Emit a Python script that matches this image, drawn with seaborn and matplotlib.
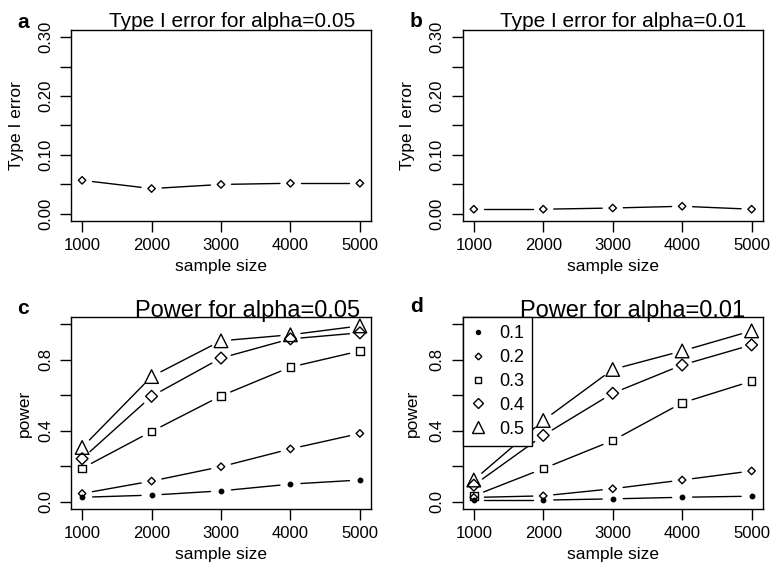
import numpy as np
import pandas as pd
import matplotlib
matplotlib.use('Agg')
import matplotlib.pyplot as plt
from matplotlib.lines import Line2D
import seaborn as sns

# tamanhos de amostra
sample_sizes = [1000, 2000, 3000, 4000, 5000]

# erro tipo I
type1_a05 = [0.057, 0.043, 0.050, 0.052, 0.052]
type1_a01 = [0.008, 0.008, 0.010, 0.013, 0.008]

# poder para alpha=0.05 (efeitos 0.1 ... 0.5)
effects = ['0.1', '0.2', '0.3', '0.4', '0.5']
power_a05_01 = [0.026, 0.038, 0.062, 0.100, 0.123]
power_a05_02 = [0.047, 0.117, 0.198, 0.298, 0.385]
power_a05_03 = [0.189, 0.396, 0.596, 0.758, 0.849]
power_a05_04 = [0.243, 0.594, 0.809, 0.917, 0.951]
power_a05_05 = [0.306, 0.705, 0.906, 0.940, 0.990]

# poder para alpha=0.01
power_a01_01 = [0.010, 0.010, 0.017, 0.026, 0.032]
power_a01_02 = [0.025, 0.034, 0.074, 0.123, 0.174]
power_a01_03 = [0.034, 0.187, 0.345, 0.557, 0.679]
power_a01_04 = [0.094, 0.374, 0.611, 0.770, 0.883]
power_a01_05 = [0.123, 0.458, 0.745, 0.849, 0.962]

sns.set_style('ticks')
plt.rcParams['font.family'] = ['Liberation Sans', 'DejaVu Sans']
plt.rcParams['axes.linewidth'] = 1.0
plt.rcParams['xtick.major.width'] = 1.0
plt.rcParams['ytick.major.width'] = 1.0
plt.rcParams['xtick.major.size'] = 8
plt.rcParams['ytick.major.size'] = 8
plt.rcParams['xtick.major.pad'] = 4
plt.rcParams['ytick.major.pad'] = 5
for k in ('xtick.color', 'ytick.color', 'axes.edgecolor', 'text.color',
          'axes.labelcolor', 'xtick.labelcolor', 'ytick.labelcolor'):
    plt.rcParams[k] = 'black'

# estilo dos marcadores: (marcador, tamanho, preenchido)
styles = {
    '0.1': ('o', 3.2, True),
    '0.2': ('D', 3.8, False),
    '0.3': ('s', 5.4, False),
    '0.4': ('D', 6.0, False),
    '0.5': ('^', 9.8, False),
}

fig = plt.figure(figsize=(7.71, 5.77), dpi=100)
W, H = 771, 577


def new_axes(left, top, width, height):
    return fig.add_axes([left / W, 1 - (top + height) / H, width / W, height / H])


ax_a = new_axes(71, 30, 300, 191)
ax_b = new_axes(462.7, 30, 300, 191)
ax_c = new_axes(71, 317, 300, 192)
ax_d = new_axes(462.7, 317, 300, 192)

for ax in (ax_a, ax_b, ax_c, ax_d):
    ax.set_xlim(840, 5160)
    ax.set_xticks(sample_sizes)
    ax.tick_params(labelsize=12)
for ax in (ax_a, ax_b):
    ax.set_ylim(-0.012, 0.312)
    ax.set_yticks(np.arange(0, 0.31, 0.05))
    ax.set_yticklabels(['0.00', '', '0.10', '', '0.20', '', '0.30'],
                       rotation=90, va='center')
for ax in (ax_c, ax_d):
    ax.set_ylim(-0.04, 1.04)
    ax.set_yticks(np.arange(0, 1.01, 0.2))
    ax.set_yticklabels(['0.0', '', '0.4', '', '0.8', ''], rotation=90, va='center')


def plot_b(ax, yvals, key, gap=10.5):
    # linhas estilo R type="b": segmentos com espaço em volta dos pontos
    marker, ms, filled = styles[key]
    pts = ax.transData.transform(np.column_stack([sample_sizes, yvals]))
    inv = ax.transData.inverted()
    for p1, p2 in zip(pts[:-1], pts[1:]):
        d = p2 - p1
        L = np.hypot(*d)
        if L <= 2 * gap:
            continue
        u = d / L
        seg = inv.transform(np.array([p1 + u * gap, p2 - u * gap]))
        ax.plot(seg[:, 0], seg[:, 1], color='black', lw=1.0)
    df = pd.DataFrame({'n': sample_sizes, 'v': yvals})
    sns.scatterplot(data=df, x='n', y='v', ax=ax, marker=marker, s=ms ** 2,
                    facecolor='black' if filled else 'none',
                    edgecolor='black', linewidth=1.0, zorder=3)


plot_b(ax_a, type1_a05, '0.2')
plot_b(ax_b, type1_a01, '0.2')

for vals, key in zip([power_a05_01, power_a05_02, power_a05_03, power_a05_04, power_a05_05], effects):
    plot_b(ax_c, vals, key)
for vals, key in zip([power_a01_01, power_a01_02, power_a01_03, power_a01_04, power_a01_05], effects):
    plot_b(ax_d, vals, key)

for ax in (ax_a, ax_b, ax_c, ax_d):
    ax.set_xlabel('sample size', fontsize=12.5)
    ax.xaxis.set_label_coords(0.5, -0.2)

ax_a.set_ylabel('Type I error', fontsize=12.5)
ax_b.set_ylabel('Type I error', fontsize=12.5)
ax_c.set_ylabel('power', fontsize=12.5)
ax_d.set_ylabel('power', fontsize=12.5)
ax_a.yaxis.set_label_coords(-0.157, 0.5)
ax_b.yaxis.set_label_coords(-0.159, 0.5)
ax_c.yaxis.set_label_coords(-0.13, 0.5)
ax_d.yaxis.set_label_coords(-0.142, 0.5)

ax_a.set_title('Type I error for alpha=0.05', fontsize=15, x=0.538, y=1.016, pad=0)
ax_b.set_title('Type I error for alpha=0.01', fontsize=15, x=0.534, y=1.016, pad=0)
ax_c.set_title('Power for alpha=0.05', fontsize=17, x=0.59, y=1.0, pad=0)
ax_d.set_title('Power for alpha=0.01', fontsize=17, x=0.566, y=1.0, pad=0)

for lab, (x, y) in zip('abcd', [(17, 28), (410, 27), (17, 314), (410, 312)]):
    fig.text(x / W, 1 - y / H, lab, fontsize=15, fontweight='bold', va='baseline')

handles = []
for key in effects:
    marker, ms, filled = styles[key]
    handles.append(Line2D([], [], ls='', marker=marker, markersize=ms * 0.9,
                          markerfacecolor='black' if filled else 'none',
                          markeredgecolor='black', markeredgewidth=1.0))
leg = ax_d.legend(handles, effects, loc='upper left', bbox_to_anchor=(0, 1),
                  borderaxespad=0, fancybox=False, framealpha=1, fontsize=13,
                  handlelength=0.8, handletextpad=0.75, labelspacing=0.38,
                  borderpad=0.45)
leg.get_frame().set_edgecolor('black')
leg.get_frame().set_linewidth(1.0)

fig.savefig('out.png', dpi=100)
